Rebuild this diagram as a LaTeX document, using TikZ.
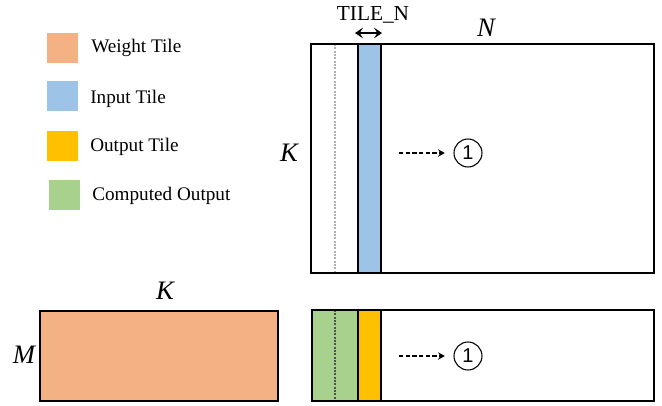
\documentclass[tikz,border=0pt]{standalone}
\usepackage{fontspec}
\setmainfont{Liberation Serif}
\newfontfamily\numfont{Liberation Sans}
\usetikzlibrary{arrows.meta}
\definecolor{wtile}{HTML}{F4B183}
\definecolor{itile}{HTML}{9DC3E6}
\definecolor{otile}{HTML}{FFC000}
\definecolor{ctile}{HTML}{A9D18E}
\tikzset{
  px/.style={x=0.75pt,y=-0.75pt},
  swatch/.style={fill=#1,draw=none,minimum width=31*0.75pt,minimum height=30*0.75pt,inner sep=0pt,anchor=north west},
  legtext/.style={anchor=west,inner sep=0pt,font=\fontsize{14.4}{16}\selectfont},
  dimlabel/.style={inner sep=0pt,font=\fontsize{20}{22}\selectfont\itshape},
  frame/.style={draw=black,line width=1.4pt},
  colborder/.style={draw=black,line width=1.1pt},
  guide/.style={draw=#1,line width=0.8pt,dash pattern=on 1.5pt off 1pt},
  flowarrow/.style={draw=black,line width=1pt,dash pattern=on 3.2pt off 1.8pt,-{Stealth[length=5pt,width=5.5pt]},shorten >=6.5pt},
  stepmark/.style={circle,draw=black,line width=0.8pt,minimum size=28*0.75pt,inner sep=0pt,font=\numfont\fontsize{15}{16}\selectfont},
}
\begin{document}
\begin{tikzpicture}[px]
\useasboundingbox (0,0) rectangle (662,405);

% legend
\node[swatch=wtile] (sw1) at (47,33) {};
\node[swatch=itile] (sw2) at (47,81) {};
\node[swatch=otile] (sw3) at (47,131) {};
\node[swatch=ctile] (sw4) at (49,180) {};
\node[legtext] (lt1) at (91,48) {Weight Tile};
\node[legtext] (lt2) at (90,99) {Input Tile};
\node[legtext] (lt3) at (90,147) {Output Tile};
\node[legtext] (lt4) at (92,196) {Computed Output};

% input matrix (K x N) with the current input tile
\fill[itile] (358,44) rectangle (381,273);
\draw[guide=gray!60] (335,44) -- (335,273);
\draw[colborder] (358,44) -- (358,273) (381,44) -- (381,273);
\draw[frame] (311,44) rectangle (654,273);
\node[dimlabel] (nlab) at (486,28) {N};
\node[dimlabel] (klab) at (289,153) {K};
\node[inner sep=0pt,font=\fontsize{16}{18}\selectfont] (tilen) at (373,15) {TILE\_N};
\coordinate (ta) at (355,33);
\coordinate (tb) at (382,33);
\draw[line width=1.3pt,{Stealth[length=6pt,width=8pt,inset=2.5pt]}-{Stealth[length=6pt,width=8pt,inset=2.5pt]}] (ta) -- (tb);
\coordinate (fa1) at (399,153);
\node[stepmark] (s1) at (468,153) {1};
\draw[flowarrow] (fa1) -- (s1.west);

% weight matrix (M x K)
\node[fill=wtile,draw=black,line width=1.4pt,minimum width=238*0.75pt,minimum height=90*0.75pt,inner sep=0pt,anchor=north west] (wmat) at (39,310) {};
\node[dimlabel] (klab2) at (165,291) {K};
\node[dimlabel] (mlab) at (24,355) {M};

% output matrix (M x N)
\fill[ctile] (312,310) rectangle (358,401);
\fill[otile] (358,310) rectangle (381,401);
\draw[guide=gray!90!ctile!60!black] (335,310) -- (335,401);
\draw[colborder] (358,310) -- (358,401) (381,310) -- (381,401);
\draw[frame] (312,310) rectangle (654,401);
\coordinate (fa2) at (399,356);
\node[stepmark] (s2) at (468,356) {1};
\draw[flowarrow] (fa2) -- (s2.west);
\end{tikzpicture}
\end{document}
